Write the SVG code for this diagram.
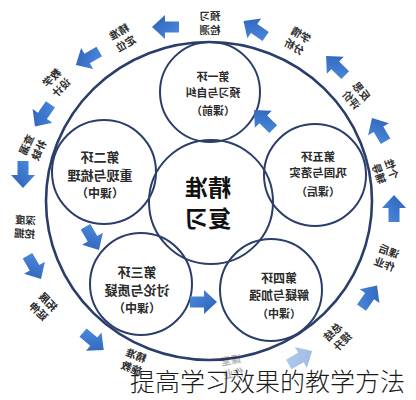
<svg xmlns="http://www.w3.org/2000/svg" width="416" height="400" viewBox="0 0 416 400">
<defs>
<linearGradient id="ag" x1="0" y1="0" x2="1" y2="1">
<stop offset="0" stop-color="#4f8ee0"/>
<stop offset="1" stop-color="#2a5fb5"/>
</linearGradient>
<path id="arr" d="M-13,-5.5 L1,-5.5 L1,-12 L14,0 L1,12 L1,5.5 L-13,5.5 Z" fill="url(#ag)"/>
</defs>
<style>
.ring{fill:none;stroke:#2b3d6a;stroke-width:2}
.outer{fill:none;stroke:#2b3d6a;stroke-width:2.6}
.ct{font-family:"Noto Sans CJK SC","Noto Sans",sans-serif;font-weight:bold;fill:#2a2a2a;text-anchor:middle}
.lb{font-family:"Noto Sans CJK SC","Noto Sans",sans-serif;font-weight:bold;font-size:10.5px;fill:#2e2e2e;text-anchor:middle}
.big{font-family:"Noto Sans CJK SC","Noto Sans",sans-serif;font-weight:bold;font-size:23px;fill:#111;text-anchor:middle}
.title{font-family:"Noto Sans CJK SC","Noto Sans",sans-serif;font-weight:300;font-size:25px;fill:#1a1a1a}
</style>
<rect width="416" height="400" fill="#ffffff"/>
<g id="outer-ring"><ellipse class="outer" cx="209" cy="201" rx="163" ry="159"/></g>
<g id="center">
<circle class="ring" cx="211" cy="202" r="62"/>
<g transform="translate(208,0) scale(-1,1)">
<text class="big" x="0" y="196">精准</text>
<text class="big" x="0" y="227">复习</text>
</g>
</g>
<g id="ring1">
<circle class="ring" cx="210" cy="92" r="50"/>
<g transform="translate(213,0) scale(-1,1)">
<text class="ct" x="0" y="81" font-size="11">第一环</text>
<text class="ct" x="0" y="97" font-size="11">预习与自纠</text>
<text class="ct" x="0" y="115" font-size="11">（课前）</text>
</g>
</g>
<g id="ring2">
<circle class="ring" cx="104" cy="172" r="52"/>
<g transform="translate(100,0) scale(-1,1)">
<text class="ct" x="0" y="162" font-size="13">第二环</text>
<text class="ct" x="0" y="180" font-size="13">重现与梳理</text>
<text class="ct" x="0" y="198" font-size="12">（课中）</text>
</g>
</g>
<g id="ring3">
<circle class="ring" cx="141" cy="284" r="51"/>
<g transform="translate(137,0) scale(-1,1)">
<text class="ct" x="0" y="277" font-size="13">第三环</text>
<text class="ct" x="0" y="295" font-size="13">讨论与质疑</text>
<text class="ct" x="0" y="313" font-size="12">（课中）</text>
</g>
</g>
<g id="ring4">
<circle class="ring" cx="271" cy="290" r="51"/>
<g transform="translate(279,0) scale(-1,1)">
<text class="ct" x="0" y="283" font-size="12">第四环</text>
<text class="ct" x="0" y="300" font-size="12">解疑与加强</text>
<text class="ct" x="0" y="318" font-size="11">（课中）</text>
</g>
</g>
<g id="ring5">
<circle class="ring" cx="315" cy="175" r="51"/>
<g transform="translate(318,0) scale(-1,1)">
<text class="ct" x="0" y="161" font-size="11.5">第五环</text>
<text class="ct" x="0" y="177" font-size="11.5">巩固与落实</text>
<text class="ct" x="0" y="196" font-size="11">（课后）</text>
</g>
</g>
<g id="labels">
<g transform="translate(210,22) scale(-1,1)"><text class="lb" y="-2">预习</text><text class="lb" y="11.5">检测</text></g>
<g transform="translate(122,37) rotate(-30) scale(-1,1)"><text class="lb" y="-2">精准</text><text class="lb" y="11.5">定位</text></g>
<g transform="translate(56,82) rotate(-45) scale(-1,1)"><text class="lb" y="-2">教学</text><text class="lb" y="11.5">设计</text></g>
<g transform="translate(32,147) rotate(-65) scale(-1,1)"><text class="lb" y="-2">查漏</text><text class="lb" y="11.5">补缺</text></g>
<g transform="translate(25,226) rotate(4) scale(-1,1)"><text class="lb" y="-2">深度</text><text class="lb" y="11.5">挖掘</text></g>
<g transform="translate(44,306) rotate(45) scale(-1,1)"><text class="lb" y="-2">拓展</text><text class="lb" y="11.5">延伸</text></g>
<g transform="translate(134,361) rotate(20) scale(-1,1)"><text class="lb" y="-2">精准</text><text class="lb" y="11.5">施教</text></g>
<g transform="translate(232,366) rotate(-10) scale(-1,1)" opacity="0.35"><text class="lb" y="-2">课堂</text><text class="lb" y="11.5">作业</text></g>
<g transform="translate(337,336) rotate(-45) scale(-1,1)"><text class="lb" y="-2">总结</text><text class="lb" y="11.5">提升</text></g>
<g transform="translate(387,257) rotate(20) scale(-1,1)"><text class="lb" y="-2">课后</text><text class="lb" y="11.5">作业</text></g>
<g transform="translate(386,171) rotate(70) scale(-1,1)"><text class="lb" y="-2">个性</text><text class="lb" y="11.5">辅导</text></g>
<g transform="translate(357,95) rotate(50) scale(-1,1)"><text class="lb" y="-2">反思</text><text class="lb" y="11.5">评价</text></g>
<g transform="translate(298,40) rotate(30) scale(-1,1)"><text class="lb" y="-2">学情</text><text class="lb" y="11.5">分析</text></g>
</g>
<g id="connectors">
<use href="#arr" transform="translate(255,29) rotate(-145)"/>
<use href="#arr" transform="translate(166,27) rotate(180)"/>
<use href="#arr" transform="translate(88,58) rotate(150)"/>
<use href="#arr" transform="translate(43,115) rotate(125)"/>
<use href="#arr" transform="translate(23,174) rotate(90)"/>
<use href="#arr" transform="translate(34,267) rotate(60)"/>
<use href="#arr" transform="translate(93,341) rotate(40)"/>
<use href="#arr" transform="translate(300,358) rotate(-30)" opacity="0.45"/>
<use href="#arr" transform="translate(369,297) rotate(-55)"/>
<use href="#arr" transform="translate(394,209) rotate(-90)"/>
<use href="#arr" transform="translate(379,130) rotate(-120)"/>
<use href="#arr" transform="translate(336,66) rotate(-135)"/>
<use href="#arr" transform="translate(92,238) rotate(60)"/>
<use href="#arr" transform="translate(203,302) rotate(0)"/>
<use href="#arr" transform="translate(264,120) rotate(-135)"/>
</g>
<g id="caption">
<text class="title" x="130" y="391">提高学习效果的教学方法</text>
</g>
</svg>
